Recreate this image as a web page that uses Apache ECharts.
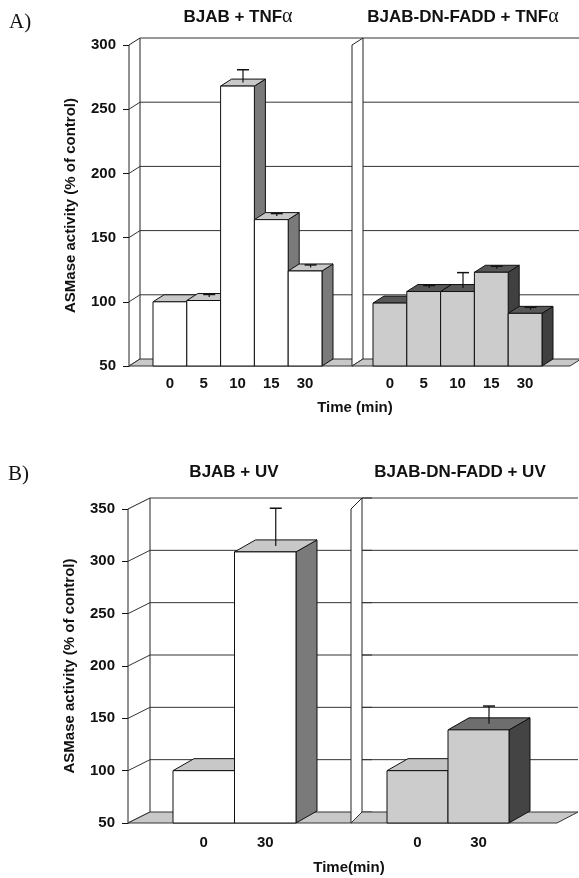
<!DOCTYPE html>
<html>
<head>
<meta charset="utf-8">
<script src="https://cdn.jsdelivr.net/npm/echarts@6/dist/echarts.min.js"></script>
<style>
  body { margin: 0; background: #fff; }
  #chart { width: 579px; height: 878px; }
</style>
</head>
<body>
<div id="chart"></div>
<script>
// data
const timesA = ['0', '5', '10', '15', '30'];
const bjabTnf = [100, 101, 268, 164, 124];
const bjabTnfErr = [0, 2, 10, 2, 2];
const dnTnf = [99, 108, 108, 123, 91];
const dnTnfErr = [0, 2, 12, 2, 2];

const timesB = ['0', '30'];
const bjabUv = [100, 309];
const bjabUvErr = [0, 36];
const dnUv = [100, 139];
const dnUvErr = [0, 17];

const yTicksA = [50, 100, 150, 200, 250, 300];
const yTicksB = [50, 100, 150, 200, 250, 300, 350];

const FONT = "'Liberation Sans', Arial, sans-serif";
const chart = echarts.init(document.getElementById('chart'));

// back wall, side wall and floor of one 3d panel
function wallRender(cfg) {
	return function (params, api) {
		const cs = params.coordSys;
		const L = cs.x - cfg.left;
		const R = cs.x + cs.width + cfg.right;
		const sx = cfg.sideDx, dx = cfg.dx, dy = cfg.dy;
		const y = v => api.coord([0, v])[1];
		const t = cfg.ticks;
		const y0 = y(t[0]), y1 = y(t[t.length - 1]);
		const kids = [];
		t.slice(1).forEach(v => kids.push({
			type: 'line',
			shape: { x1: L + sx, y1: y(v) + dy, x2: R + dx, y2: y(v) + dy },
			style: { stroke: '#333', lineWidth: 1 }
		}));
		kids.push({
			type: 'polygon',
			shape: { points: [[L, y0], [L, y1], [L + sx, y1 + dy], [L + sx, y0 + dy]] },
			style: { fill: '#fff', stroke: '#222', lineWidth: 1 }
		});
		if (cfg.sideGrid) {
			t.slice(1, -1).forEach(v => kids.push({
				type: 'line',
				shape: { x1: L, y1: y(v), x2: L + sx, y2: y(v) + dy },
				style: { stroke: '#333', lineWidth: 1 }
			}));
		}
		kids.push({
			type: 'polygon',
			shape: { points: [[L, y0], [R, y0], [R + dx, y0 + dy], [L + sx, y0 + dy]] },
			style: { fill: '#c8c8c8', stroke: '#333', lineWidth: 1 }
		});
		return { type: 'group', children: kids };
	};
}

// 3d box bars with error whisker on the top face
function barRender(cfg) {
	return function (params, api) {
		const c = api.value(0), v = api.value(1), e = api.value(2);
		const p = api.coord([c, v]);
		const yB = api.coord([c, cfg.base])[1];
		const w = api.size([1, 0])[0];
		const x0 = p[0] - w / 2, x1 = p[0] + w / 2, yT = p[1];
		const dx = cfg.dx, dy = cfg.dy;
		const topFill = cfg.tops ? cfg.tops[params.dataIndex] : cfg.top;
		const kids = [
			{ type: 'polygon', shape: { points: [[x1, yT], [x1 + dx, yT + dy], [x1 + dx, yB + dy], [x1, yB]] },
				style: { fill: cfg.side, stroke: '#111', lineWidth: 1 } },
			{ type: 'polygon', shape: { points: [[x0, yT], [x1, yT], [x1 + dx, yT + dy], [x0 + dx, yT + dy]] },
				style: { fill: topFill, stroke: '#111', lineWidth: 1 } },
			{ type: 'rect', shape: { x: x0, y: yT, width: w, height: yB - yT },
				style: { fill: cfg.face, stroke: '#111', lineWidth: 1 } }
		];
		if (e > 0) {
			const cx = p[0] + dx / 2;
			const yc = yT + dy / 2;
			const yE = api.coord([c, v + e])[1] + dy / 2;
			kids.push({ type: 'line', shape: { x1: cx, y1: yc, x2: cx, y2: yE }, style: { stroke: '#111', lineWidth: 1.2 } });
			kids.push({ type: 'line', shape: { x1: cx - 6, y1: yE, x2: cx + 6, y2: yE }, style: { stroke: '#111', lineWidth: 1.5 } });
		}
		return { type: 'group', children: kids };
	};
}

const whiteBar = { face: '#ffffff', top: '#c8c8c8', side: '#7a7a7a' };
const greyBarA = { face: '#cccccc', top: '#575757', side: '#404040' };
const greyBarB = { face: '#cccccc', tops: ['#c4c4c4', '#6e6e6e'], side: '#444444' };

function xAx(cats, gi, margin) {
	return {
		type: 'category', gridIndex: gi, data: cats, boundaryGap: true,
		axisLine: { show: false }, axisTick: { show: false }, splitLine: { show: false },
		axisLabel: { color: '#111', fontWeight: 'bold', fontSize: 15, fontFamily: FONT, margin: margin }
	};
}
function yAx(gi, max, show, offset, name) {
	return {
		type: 'value', gridIndex: gi, min: 50, max: max, interval: 50, show: show, offset: offset,
		name: name, nameLocation: 'middle', nameRotate: 90, nameGap: 51,
		nameTextStyle: { color: '#111', fontWeight: 'bold', fontSize: 15, fontFamily: FONT },
		axisLine: { show: true, lineStyle: { color: '#111', width: 1 } },
		axisTick: { show: true, length: 6, inside: false, lineStyle: { color: '#111' } },
		splitLine: { show: false },
		axisLabel: { color: '#111', fontWeight: 'bold', fontSize: 15, fontFamily: FONT, margin: 13 }
	};
}

function txt(x, y, text, size) {
	return {
		type: 'text', x: x, y: y,
		style: {
			text: text, fill: '#111', fontSize: size, fontWeight: 'bold', fontFamily: FONT,
			align: 'center', verticalAlign: 'middle',
			rich: { a: { fontFamily: "'Liberation Serif', serif", fontSize: size + 3, fontWeight: 'normal', fill: '#111' } }
		}
	};
}

const yName = 'ASMase activity (% of control)';

const option = {
	animation: false,
	backgroundColor: '#fff',
	grid: [
		{ left: 153, top: 45, width: 169, height: 321 },
		{ left: 373, top: 45, width: 169, height: 321 },
		{ left: 173, top: 509, width: 123, height: 314 },
		{ left: 387, top: 509, width: 122, height: 314 }
	],
	xAxis: [xAx(timesA, 0, 10), xAx(timesA, 1, 10), xAx(timesB, 2, 12), xAx(timesB, 3, 12)],
	yAxis: [
		yAx(0, 300, true, 24, yName),
		yAx(1, 300, false, 0, ''),
		yAx(2, 350, true, 45, yName),
		yAx(3, 350, false, 0, '')
	],
	series: [
		{ type: 'custom', xAxisIndex: 0, yAxisIndex: 0, data: [[0, 50]], silent: true,
			renderItem: wallRender({ ticks: yTicksA, left: 24, right: 30, sideDx: 11, dx: 11, dy: -7, sideGrid: true }) },
		{ type: 'custom', xAxisIndex: 0, yAxisIndex: 0,
			data: bjabTnf.map((v, i) => [i, v, bjabTnfErr[i]]),
			renderItem: barRender(Object.assign({ base: 50, dx: 11, dy: -7 }, whiteBar)) },
		{ type: 'custom', xAxisIndex: 1, yAxisIndex: 1, data: [[0, 50]], silent: true,
			renderItem: wallRender({ ticks: yTicksA, left: 21, right: 28, sideDx: 11, dx: 11, dy: -7, sideGrid: false }) },
		{ type: 'custom', xAxisIndex: 1, yAxisIndex: 1,
			data: dnTnf.map((v, i) => [i, v, dnTnfErr[i]]),
			renderItem: barRender(Object.assign({ base: 50, dx: 11, dy: -7 }, greyBarA)) },
		{ type: 'custom', xAxisIndex: 2, yAxisIndex: 2, data: [[0, 50]], silent: true,
			renderItem: wallRender({ ticks: yTicksB, left: 45, right: 55, sideDx: 22, dx: 21, dy: -11, sideGrid: true }) },
		{ type: 'custom', xAxisIndex: 2, yAxisIndex: 2,
			data: bjabUv.map((v, i) => [i, v, bjabUvErr[i]]),
			renderItem: barRender(Object.assign({ base: 50, dx: 21, dy: -12 }, whiteBar)) },
		{ type: 'custom', xAxisIndex: 3, yAxisIndex: 3, data: [[0, 50]], silent: true,
			renderItem: wallRender({ ticks: yTicksB, left: 36, right: 48, sideDx: 11, dx: 21, dy: -11, sideGrid: false }) },
		{ type: 'custom', xAxisIndex: 3, yAxisIndex: 3,
			data: dnUv.map((v, i) => [i, v, dnUvErr[i]]),
			renderItem: barRender(Object.assign({ base: 50, dx: 21, dy: -12 }, greyBarB)) }
	],
	graphic: [
		{ type: 'text', x: 9, y: 22, style: { text: 'A)', fill: '#111', fontSize: 21, fontFamily: "'Liberation Serif', serif", verticalAlign: 'middle' } },
		{ type: 'text', x: 8, y: 474, style: { text: 'B)', fill: '#111', fontSize: 21, fontFamily: "'Liberation Serif', serif", verticalAlign: 'middle' } },
		txt(238, 17, 'BJAB + TNF{a|α}', 17),
		txt(463, 17, 'BJAB-DN-FADD + TNF{a|α}', 17),
		txt(234, 472, 'BJAB + UV', 17),
		txt(460, 472, 'BJAB-DN-FADD + UV', 17),
		txt(355, 408, 'Time (min)', 15),
		txt(349, 868, 'Time(min)', 15)
	]
};

chart.setOption(option);
</script>
</body>
</html>
